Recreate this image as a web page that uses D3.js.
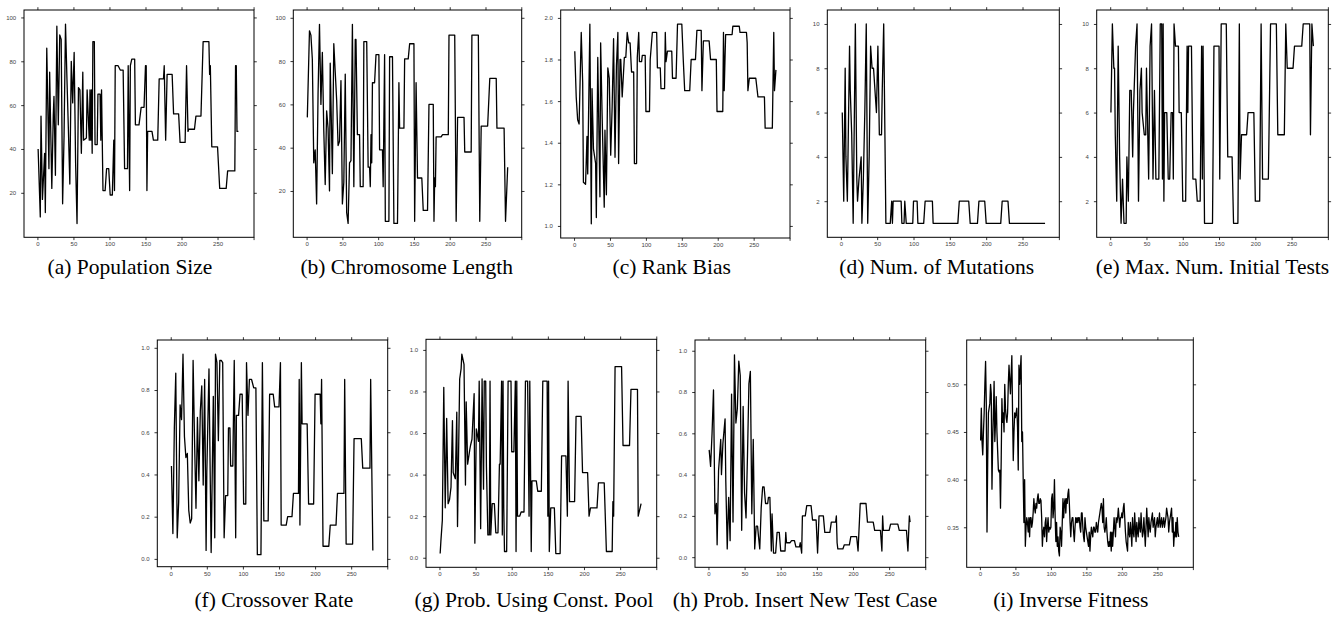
<!DOCTYPE html>
<html>
<head>
<meta charset="utf-8">
<script src="https://cdn.jsdelivr.net/npm/d3@7"></script>
<style>
  body { margin: 0; background: #fff; }
  .tick text { font-family: "Liberation Sans", Arial, sans-serif; font-size: 6px; fill: #444; }
  .tick line { stroke: #000; stroke-width: 0.8; }
</style>
</head>
<body>
<svg width="1338" height="624"></svg>
<script>
// x ticks shared by all panels (300 sits on the right border, unlabelled)
var xTickValues = [0, 50, 100, 150, 200, 250, 300];

// (a) population size, [generation, value] at each vertex
var popSize = [[1,40],[4,9],[5,55],[7,17],[10,38],[11,11],[13,86],[16,31],[17,75],[20,22],[22,55],[23,64],[25,28],[27,96],[29,51],[31,92],[33,90],[35,15],[37,46],[39,97],[41,72],[43,49],[45,24],[47,80],[49,61],[51,84],[53,34],[55,6],[57,68],[59,67],[61,38],[63,75],[64,44],[68,45],[69,67],[72,44],[73,67],[74,44],[75,67],[76,38],[77,89],[79,89],[80,42],[83,42],[84,65],[87,65],[88,44],[89,67],[90,44],[91,21],[94,21],[96,31],[99,31],[101,19],[104,19],[106,44],[107,21],[108,78],[112,78],[115,76],[119,76],[121,31],[125,31],[126,78],[128,21],[129,78],[131,81],[135,81],[136,51],[141,51],[144,59],[148,59],[150,78],[151,78],[152,21],[153,48],[159,48],[161,44],[167,44],[169,72],[175,72],[176,78],[178,44],[180,74],[187,74],[189,56],[196,56],[198,43],[205,43],[207,78],[209,48],[210,49],[218,49],[220,55],[227,55],[230,89],[238,89],[239,74],[240,78],[242,41],[250,41],[253,22],[262,22],[264,30],[274,30],[275,78],[276,78],[277,48],[279,48]];

// (b) chromosome length
var chromLen = [[1,54],[4,94],[6,92],[8,81],[10,33],[12,39],[14,14],[16,65],[18,97],[20,60],[22,84],[24,48],[26,23],[28,57],[30,49],[32,20],[33,79],[36,28],[38,88],[40,75],[42,62],[44,41],[46,43],[48,71],[50,14],[52,24],[54,74],[56,10],[58,5],[60,33],[62,34],[64,97],[66,22],[68,90],[69,90],[71,46],[74,46],[75,22],[79,22],[80,89],[84,89],[86,31],[88,31],[89,22],[90,46],[91,33],[92,70],[95,70],[97,83],[101,83],[102,39],[106,39],[107,22],[109,83],[110,6],[115,6],[116,82],[120,82],[122,5],[127,5],[129,70],[130,49],[136,49],[137,81],[142,81],[144,88],[150,88],[151,6],[153,70],[155,26],[161,26],[163,11],[169,11],[171,60],[177,60],[178,6],[179,26],[180,22],[181,45],[188,45],[190,46],[198,46],[199,92],[207,92],[209,6],[211,54],[220,54],[221,38],[230,38],[231,92],[240,92],[242,6],[244,50],[253,50],[256,72],[265,72],[266,49],[276,49],[278,6],[281,31]];

// (c) rank bias
var rankBias = [[1,1.84],[3,1.62],[5,1.51],[7,1.49],[10,1.93],[12,1.69],[13,1.21],[16,1.20],[18,1.43],[19,1.25],[22,1.97],[24,1.01],[25,1.66],[27,1.37],[30,1.30],[31,1.04],[33,1.81],[36,1.14],[37,1.88],[39,1.54],[42,1.09],[43,1.46],[45,1.15],[47,1.76],[49,1.71],[51,1.34],[53,1.57],[55,1.90],[57,1.33],[59,1.77],[61,1.93],[62,1.30],[64,1.80],[65,1.80],[67,1.62],[70,1.81],[72,1.81],[74,1.93],[76,1.88],[78,1.88],[80,1.74],[83,1.74],[84,1.30],[87,1.30],[88,1.81],[90,1.93],[91,1.79],[94,1.79],[95,1.82],[99,1.82],[100,1.55],[105,1.55],[106,1.80],[109,1.93],[115,1.93],[116,1.76],[120,1.76],[121,1.66],[126,1.66],[127,1.93],[128,1.79],[130,1.84],[136,1.84],[137,1.71],[142,1.71],[144,1.97],[150,1.97],[152,1.80],[154,1.65],[161,1.65],[163,1.80],[169,1.80],[171,1.94],[177,1.94],[178,1.65],[180,1.89],[188,1.89],[190,1.80],[198,1.80],[199,1.55],[207,1.55],[208,1.93],[209,1.65],[211,1.92],[220,1.92],[221,1.96],[230,1.96],[231,1.93],[240,1.93],[241,1.88],[242,1.65],[244,1.71],[253,1.71],[256,1.62],[265,1.62],[266,1.47],[276,1.47],[278,1.93],[279,1.65],[281,1.75]];

// (d) number of mutations
var numMut = [[2,6],[4,2],[6,8],[7,4],[9,2],[12,9],[13,7],[15,5],[17,1],[20,10],[22,3],[23,2],[25,3],[28,4],[29,1],[31,3],[33,6],[35,10],[37,1],[39,4],[41,9],[43,8],[45,8],[47,7],[49,6],[51,9],[53,5],[56,5],[57,7],[59,10],[62,1],[68,1],[70,2],[71,1],[72,2],[83,2],[84,1],[87,1],[88,2],[90,1],[99,1],[100,2],[105,2],[106,1],[114,1],[116,2],[126,2],[127,1],[161,1],[163,2],[176,2],[178,1],[188,1],[190,2],[198,2],[200,1],[220,1],[222,2],[230,2],[232,1],[281,1]];

// (e) max. num. initial tests
var initTests = [[1,6],[3,10],[5,8],[6,8],[7,5],[9,2],[11,9],[13,4],[15,1],[17,3],[19,1],[22,1],[23,4],[25,2],[27,7],[29,7],[31,4],[32,6],[35,9],[37,10],[39,2],[41,7],[43,8],[44,6],[47,5],[49,5],[50,8],[53,3],[55,9],[57,10],[59,3],[61,7],[63,3],[67,3],[69,10],[71,10],[72,3],[73,10],[74,2],[75,6],[78,6],[80,3],[82,3],[84,6],[86,6],[87,3],[88,10],[90,9],[94,9],[95,6],[98,6],[100,2],[104,2],[106,9],[107,6],[108,9],[112,9],[114,3],[118,3],[120,2],[124,2],[126,9],[127,3],[128,9],[130,1],[141,1],[143,9],[150,9],[151,3],[153,10],[160,10],[162,4],[168,4],[170,1],[176,1],[178,10],[179,3],[181,5],[188,5],[190,6],[198,6],[200,2],[206,2],[208,10],[210,3],[218,3],[221,10],[229,10],[231,5],[240,5],[242,10],[244,8],[252,8],[254,9],[264,9],[266,10],[275,10],[276,5],[278,10],[280,9]];

// (f) crossover rate
var crossRate = [[1,0.44],[3,0.12],[5,0.62],[7,0.88],[9,0.10],[11,0.27],[13,0.73],[15,0.66],[17,0.97],[19,0.58],[21,0.48],[23,0.50],[25,0.23],[27,0.17],[29,0.19],[31,0.94],[33,0.56],[35,0.24],[37,0.67],[39,0.37],[41,0.70],[43,0.82],[45,0.35],[47,0.85],[49,0.04],[50,0.41],[53,0.90],[55,0.31],[56,0.03],[59,0.77],[61,0.10],[62,0.97],[64,0.93],[66,0.56],[68,0.94],[70,0.94],[72,0.93],[74,0.10],[76,0.30],[79,0.30],[80,0.62],[82,0.62],[83,0.44],[86,0.44],[88,0.94],[90,0.10],[91,0.68],[94,0.68],[96,0.78],[99,0.78],[101,0.26],[104,0.26],[105,0.93],[107,0.68],[109,0.85],[112,0.85],[115,0.81],[118,0.81],[120,0.02],[125,0.02],[127,0.93],[129,0.18],[135,0.18],[137,0.78],[142,0.78],[144,0.72],[150,0.72],[152,0.93],[153,0.16],[160,0.16],[162,0.20],[168,0.20],[170,0.31],[177,0.31],[178,0.85],[179,0.16],[181,0.93],[182,0.64],[189,0.64],[191,0.26],[198,0.26],[200,0.78],[207,0.78],[208,0.64],[209,0.85],[211,0.06],[219,0.06],[221,0.16],[229,0.16],[231,0.31],[240,0.31],[241,0.85],[243,0.07],[252,0.07],[254,0.57],[264,0.57],[266,0.43],[276,0.43],[277,0.85],[280,0.04]];

// (g) prob. using const. pool
var constPool = [[1,0.02],[2,0.08],[4,0.18],[6,0.82],[8,0.24],[10,0.67],[12,0.26],[14,0.28],[16,0.34],[18,0.66],[19,0.41],[22,0.38],[24,0.70],[25,0.15],[28,0.86],[30,0.91],[31,0.98],[34,0.93],[36,0.35],[37,0.75],[39,0.45],[42,0.52],[43,0.54],[45,0.57],[48,0.79],[49,0.07],[51,0.62],[54,0.56],[55,0.85],[57,0.14],[59,0.86],[61,0.33],[62,0.85],[64,0.85],[65,0.44],[67,0.11],[69,0.11],[70,0.85],[71,0.11],[73,0.26],[76,0.26],[78,0.12],[81,0.12],[83,0.45],[84,0.45],[86,0.85],[87,0.11],[88,0.85],[89,0.24],[90,0.03],[93,0.03],[95,0.85],[99,0.85],[100,0.51],[103,0.51],[105,0.85],[106,0.03],[107,0.85],[108,0.20],[111,0.20],[113,0.22],[117,0.22],[119,0.85],[122,0.85],[124,0.20],[125,0.85],[127,0.03],[128,0.37],[134,0.37],[136,0.32],[141,0.32],[143,0.85],[149,0.85],[150,0.20],[151,0.85],[152,0.03],[154,0.24],[159,0.24],[161,0.02],[167,0.02],[169,0.49],[175,0.49],[177,0.20],[178,0.85],[180,0.27],[187,0.27],[189,0.68],[196,0.68],[198,0.41],[205,0.41],[207,0.20],[209,0.24],[218,0.24],[220,0.36],[228,0.36],[231,0.03],[239,0.03],[240,0.27],[241,0.20],[243,0.92],[252,0.92],[254,0.54],[263,0.54],[265,0.81],[274,0.81],[275,0.20],[279,0.26]];

// (h) prob. insert new test case
var insertProb = [[1,0.52],[3,0.44],[5,0.60],[7,0.81],[9,0.21],[11,0.26],[12,0.06],[14,0.42],[17,0.57],[18,0.40],[20,0.55],[23,0.67],[24,0.37],[26,0.04],[28,0.29],[30,0.08],[32,0.79],[34,0.17],[36,0.98],[38,0.65],[40,0.72],[42,0.95],[44,0.88],[46,0.13],[48,0.73],[50,0.31],[52,0.19],[54,0.49],[56,0.84],[58,0.90],[60,0.21],[62,0.57],[64,0.04],[66,0.15],[68,0.15],[69,0.11],[71,0.04],[73,0.24],[75,0.34],[77,0.34],[79,0.26],[82,0.26],[83,0.29],[85,0.29],[87,0.03],[88,0.21],[90,0.02],[93,0.02],[95,0.12],[98,0.12],[100,0.03],[106,0.03],[107,0.12],[108,0.07],[113,0.07],[115,0.08],[119,0.08],[121,0.05],[126,0.05],[127,0.07],[129,0.02],[130,0.20],[134,0.20],[136,0.25],[142,0.25],[144,0.18],[149,0.18],[151,0.02],[153,0.20],[159,0.20],[161,0.12],[168,0.12],[170,0.17],[176,0.17],[177,0.20],[178,0.07],[179,0.04],[186,0.04],[188,0.06],[195,0.06],[197,0.10],[205,0.10],[207,0.03],[210,0.26],[218,0.26],[220,0.17],[228,0.17],[230,0.13],[238,0.13],[240,0.03],[241,0.20],[242,0.13],[250,0.13],[252,0.16],[262,0.16],[264,0.13],[274,0.13],[276,0.03],[278,0.20],[279,0.17]];

// (i) inverse fitness, one value per generation starting at 1
var invFitness = [
  0.441,0.475,0.44,0.426,0.45,0.47,0.50,0.524,0.48,0.345,0.42,0.47,0.475,0.48,0.50,0.49,0.39,0.44,0.47,0.503,
  0.44,0.46,0.487,0.45,0.43,0.41,0.408,0.41,0.37,0.42,0.485,0.46,0.47,0.45,0.50,0.475,0.465,0.46,0.47,0.50,
  0.52,0.505,0.49,0.51,0.53,0.47,0.42,0.45,0.47,0.465,0.47,0.475,0.455,0.41,0.52,0.50,0.515,0.53,0.44,0.45,
  0.40,0.355,0.40,0.33,0.35,0.36,0.355,0.345,0.36,0.34,0.36,0.36,0.35,0.355,0.365,0.38,0.37,0.365,0.375,0.37,
  0.38,0.385,0.375,0.375,0.38,0.378,0.36,0.33,0.345,0.35,0.34,0.355,0.36,0.335,0.35,0.36,0.345,0.35,0.348,0.35,
  0.38,0.385,0.36,0.37,0.40,0.36,0.335,0.355,0.33,0.34,0.325,0.32,0.35,0.345,0.33,0.355,0.38,0.36,0.375,0.38,
  0.365,0.38,0.375,0.385,0.39,0.375,0.355,0.34,0.355,0.36,0.36,0.345,0.335,0.35,0.36,0.355,0.36,0.355,0.36,0.36,
  0.35,0.345,0.365,0.365,0.35,0.34,0.335,0.36,0.35,0.345,0.34,0.335,0.33,0.345,0.325,0.34,0.35,0.345,0.34,0.35,
  0.35,0.345,0.345,0.355,0.35,0.345,0.355,0.36,0.365,0.37,0.375,0.37,0.355,0.38,0.35,0.345,0.35,0.36,0.345,0.335,
  0.33,0.335,0.33,0.345,0.325,0.345,0.33,0.345,0.36,0.35,0.34,0.36,0.355,0.36,0.37,0.36,0.35,0.36,0.36,0.365,
  0.36,0.37,0.375,0.36,0.345,0.335,0.33,0.325,0.355,0.345,0.34,0.355,0.345,0.33,0.36,0.345,0.34,0.365,0.35,0.335,
  0.355,0.345,0.34,0.36,0.35,0.345,0.365,0.35,0.34,0.345,0.36,0.345,0.33,0.35,0.37,0.355,0.34,0.36,0.35,0.345,
  0.355,0.36,0.365,0.35,0.355,0.36,0.34,0.35,0.355,0.36,0.35,0.355,0.365,0.35,0.355,0.36,0.35,0.355,0.36,0.35,
  0.355,0.36,0.37,0.365,0.36,0.345,0.355,0.36,0.365,0.37,0.345,0.36,0.33,0.345,0.34,0.355,0.34,0.36,0.345,0.34
];

var captions = ["(a) Population Size", "(b) Chromosome Length", "(c) Rank Bias",
  "(d) Num. of Mutations", "(e) Max. Num. Initial Tests", "(f) Crossover Rate",
  "(g) Prob. Using Const. Pool", "(h) Prob. Insert New Test Case", "(i) Inverse Fitness"];

var yTicksPct = [20, 40, 60, 80, 100];
var yTicksBias = [1.0, 1.2, 1.4, 1.6, 1.8, 2.0];
var yTicksCount = [2, 4, 6, 8, 10];
var yTicksProb = [0.0, 0.2, 0.4, 0.6, 0.8, 1.0];
var yTicksFit = [0.35, 0.40, 0.45, 0.50];

var fitPoints = invFitness.map(function(v, i) { return [i + 1, v]; });

var panels = [
  {data: popSize,    box: [24, 10, 254, 237.3],      yDom: [-0.3, 103.4],   yTicks: yTicksPct,   fmt: "d",   cap: [130, 274]},
  {data: chromLen,   box: [293.3, 10, 521.7, 237.3], yDom: [-1.4, 103.6],   yTicks: yTicksPct,   fmt: "d",   cap: [406.7, 274]},
  {data: rankBias,   box: [560.7, 10, 790, 238],     yDom: [0.942, 2.038],  yTicks: yTicksBias,  fmt: ".1f", cap: [671.7, 274]},
  {data: numMut,     box: [827.3, 10, 1059.3, 237.3],yDom: [0.37, 10.63],   yTicks: yTicksCount, fmt: "d",   cap: [936.7, 274]},
  {data: initTests,  box: [1096.7, 10, 1328.3, 237.3],yDom: [0.37, 10.63],  yTicks: yTicksCount, fmt: "d",   cap: [1212.5, 274]},
  {data: crossRate,  box: [157.3, 340, 387.7, 566.7],yDom: [-0.037, 1.037], yTicks: yTicksProb,  fmt: ".1f", cap: [273.8, 607]},
  {data: constPool,  box: [426, 339.3, 656.7, 567.3],yDom: [-0.046, 1.051], yTicks: yTicksProb,  fmt: ".1f", cap: [534, 607]},
  {data: insertProb, box: [695, 340, 925.7, 567.3],  yDom: [-0.049, 1.052], yTicks: yTicksProb,  fmt: ".1f", cap: [805, 607]},
  {data: fitPoints,  box: [966.7, 340, 1193.3, 567.3],yDom: [0.308, 0.5465],yTicks: yTicksFit,   fmt: ".2f", cap: [1070.8, 607]}
];

var svg = d3.select("svg");

panels.forEach(function(p, k) {
  var x0 = p.box[0], y0 = p.box[1], x1 = p.box[2], y1 = p.box[3];
  var x = d3.scaleLinear().domain([-18.6, 300.6]).range([x0, x1]);
  var y = d3.scaleLinear().domain(p.yDom).range([y1, y0]);
  var g = svg.append("g");

  var bottom = d3.axisBottom(x).tickValues(xTickValues).tickSize(2.8).tickSizeOuter(0).tickPadding(2)
    .tickFormat(function(d) { return d == 300 ? "" : d; });
  var top = d3.axisTop(x).tickValues(xTickValues).tickSize(2.8).tickSizeOuter(0).tickFormat("");
  var left = d3.axisLeft(y).tickValues(p.yTicks).tickSize(2.8).tickSizeOuter(0).tickPadding(5)
    .tickFormat(d3.format(p.fmt));
  var right = d3.axisRight(y).tickValues(p.yTicks).tickSize(2.8).tickSizeOuter(0).tickFormat("");

  g.append("g").attr("transform", "translate(0," + y1 + ")").call(bottom);
  g.append("g").attr("transform", "translate(0," + y0 + ")").call(top);
  g.append("g").attr("transform", "translate(" + x0 + ",0)").call(left);
  g.append("g").attr("transform", "translate(" + x1 + ",0)").call(right);
  g.selectAll(".domain").remove();

  g.append("rect")
    .attr("x", x0).attr("y", y0)
    .attr("width", x1 - x0).attr("height", y1 - y0)
    .attr("fill", "none").attr("stroke", "#000").attr("stroke-width", 1);

  var line = d3.line()
    .x(function(d) { return x(d[0]); })
    .y(function(d) { return y(d[1]); });

  g.append("path")
    .attr("d", line(p.data))
    .attr("fill", "none")
    .attr("stroke", "#000")
    .attr("stroke-width", 1.3)
    .attr("stroke-linejoin", "round");

  svg.append("text")
    .attr("x", p.cap[0]).attr("y", p.cap[1])
    .attr("text-anchor", "middle")
    .attr("font-family", "'Liberation Serif', 'Times New Roman', 'DejaVu Serif', serif")
    .attr("font-size", "21.5px")
    .attr("fill", "#000")
    .text(captions[k]);
});
</script>
</body>
</html>
